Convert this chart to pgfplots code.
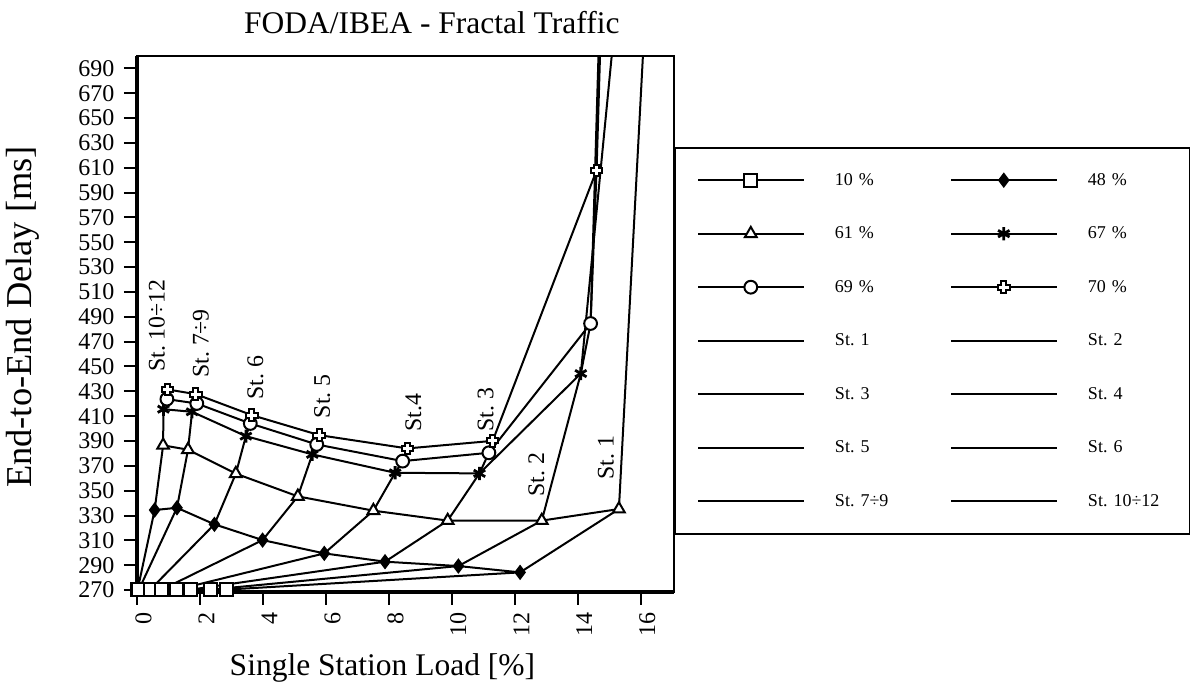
\documentclass[border=0pt]{standalone}
\usepackage{fontspec}
\setmainfont{Liberation Serif}
\usepackage{pgfplots}
\pgfplotsset{compat=1.18}

\pgfdeclareplotmark{fatplus}{%
  \pgfpathmoveto{\pgfqpoint{-0.42\pgfplotmarksize}{\pgfplotmarksize}}%
  \pgfpathlineto{\pgfqpoint{0.42\pgfplotmarksize}{\pgfplotmarksize}}%
  \pgfpathlineto{\pgfqpoint{0.42\pgfplotmarksize}{0.42\pgfplotmarksize}}%
  \pgfpathlineto{\pgfqpoint{\pgfplotmarksize}{0.42\pgfplotmarksize}}%
  \pgfpathlineto{\pgfqpoint{\pgfplotmarksize}{-0.42\pgfplotmarksize}}%
  \pgfpathlineto{\pgfqpoint{0.42\pgfplotmarksize}{-0.42\pgfplotmarksize}}%
  \pgfpathlineto{\pgfqpoint{0.42\pgfplotmarksize}{-\pgfplotmarksize}}%
  \pgfpathlineto{\pgfqpoint{-0.42\pgfplotmarksize}{-\pgfplotmarksize}}%
  \pgfpathlineto{\pgfqpoint{-0.42\pgfplotmarksize}{-0.42\pgfplotmarksize}}%
  \pgfpathlineto{\pgfqpoint{-\pgfplotmarksize}{-0.42\pgfplotmarksize}}%
  \pgfpathlineto{\pgfqpoint{-\pgfplotmarksize}{0.42\pgfplotmarksize}}%
  \pgfpathlineto{\pgfqpoint{-0.42\pgfplotmarksize}{0.42\pgfplotmarksize}}%
  \pgfpathclose
  \pgfusepathqfillstroke
}

\begin{document}
\frenchspacing
\begin{tikzpicture}
\useasboundingbox (-68.5pt,-49.5pt) rectangle (526.5pt,296pt);
\begin{axis}[
  at={(0pt,0pt)}, anchor=south west,
  scale only axis, width=268.5pt, height=268pt,
  xmin=0, xmax=17.06, ymin=268.4, ymax=700,
  xtick={0,2,...,16}, ytick={270,290,...,690},
  tick align=outside, xtick pos=left, ytick pos=left,
  major tick length=6.5pt,
  tick style={black, line width=1pt},
  axis line style={line width=1pt},
  /pgf/number format/assume math mode=true,
  tick label style={font=\fontsize{12}{14}\selectfont},
  xticklabel style={rotate=90, anchor=east, yshift=-3.3pt},
  yticklabel style={xshift=-1.3pt},
  title={FODA/IBEA - Fractal Traffic},
  title style={font=\fontsize{15.75}{18}\selectfont, at={(axis description cs:0.549,1.040)}, anchor=center},
  xlabel={Single Station Load [\%]},
  xlabel style={font=\fontsize{15.75}{18}\selectfont, at={(axis description cs:0.457,-0.142)}, anchor=center},
  ylabel={End-to-End Delay [ms]},
  ylabel style={font=\fontsize{18.2}{21}\selectfont, at={(axis description cs:-0.212,0.513)}, anchor=center},
  clip mode=individual,
  every axis plot/.append style={black, line width=1pt},
  legend columns=2,
  legend cell align=left,
  legend style={at={(1,0.831)}, anchor=north west, draw=black, line width=1pt, fill=white,
    inner xsep=11pt, inner ysep=12.3pt, row sep=18.75pt,
    font=\fontsize{9}{10}\selectfont,
    nodes={inner sep=0pt, text height=6.5pt, text depth=1.5pt},
    /tikz/every odd column/.append style={column sep=15.2pt},
    /tikz/every even column/.append style={column sep=17.5pt, text width=40pt}},
  legend image code/.code={%
    \draw[#1,mark=none] (0pt,0pt) -- (52.8pt,0pt);
    \draw[#1,mark indices={1}] plot coordinates {(26.4pt,0pt)};
  },
]
\draw[line width=2pt] (rel axis cs:0,1) -- (rel axis cs:0,0) -- (rel axis cs:1,0);

% station lines (10%, 48%, 61%, 67%, 69%, 70%)
\addplot[no marks, forget plot] coordinates {(2.83,270.3) (12.17,284.2) (15.31,335.2) (17.26,1268) (15.59,1500) (16.02,1800)};
\addplot[no marks, forget plot] coordinates {(2.33,270.3) (10.21,289.3) (12.86,325.9) (14.10,444.3) (14.41,484.6) (14.60,607.9)};
\addplot[no marks, forget plot] coordinates {(1.71,270.3) (7.88,292.8) (9.87,325.9) (10.88,363.9) (11.18,380.5) (11.30,390.1)};
\addplot[no marks, forget plot] coordinates {(1.27,270.3) (5.95,299.5) (7.51,333.9) (8.20,364.4) (8.44,373.8) (8.59,384.0)};
\addplot[no marks, forget plot] coordinates {(0.79,270.3) (3.99,310.2) (5.11,345.4) (5.57,379.2) (5.71,387.2) (5.79,394.7)};
\addplot[no marks, forget plot] coordinates {(0.42,270.3) (2.46,322.9) (3.14,363.7) (3.46,393.9) (3.60,404.1) (3.65,410.8)};
\addplot[no marks, forget plot] coordinates {(0.06,270.3) (1.27,336.2) (1.62,383.0) (1.75,413.5) (1.90,420.2) (1.87,427.7)};
\addplot[no marks, forget plot] coordinates {(0.02,270.3) (0.56,334.4) (0.83,386.5) (0.84,415.6) (0.95,423.7) (0.97,431.5)};

% traffic levels (St. 10-12 ... St. 1)
\addplot[mark=square*, mark size=3.25pt, mark options={fill=white, line width=1pt}] coordinates {
 (0.02,270.3) (0.06,270.3) (0.42,270.3) (0.79,270.3) (1.27,270.3) (1.71,270.3) (2.33,270.3) (2.83,270.3)};
\addlegendentry{10 \%}
\addplot[mark=diamond*, mark size=3.4pt, mark options={fill=black, line width=0.6pt}] coordinates {
 (0.56,334.4) (1.27,336.2) (2.46,322.9) (3.99,310.2) (5.95,299.5) (7.88,292.8) (10.21,289.3) (12.17,284.2)};
\addlegendentry{48 \%}
\addplot[mark=triangle*, mark size=3.4pt, mark options={fill=white, line width=1pt}] coordinates {
 (0.83,386.5) (1.62,383.0) (3.14,363.7) (5.11,345.4) (7.51,333.9) (9.87,325.9) (12.86,325.9) (15.31,335.2)};
\addlegendentry{61 \%}
\addplot[mark=asterisk, mark size=3.3pt, mark indices={1,2,3,4,5,6,7}, mark options={line width=1.4pt}] coordinates {
 (0.84,415.6) (1.75,413.5) (3.46,393.9) (5.57,379.2) (8.20,364.4) (10.88,363.9) (14.10,444.3) (17.26,1268)};
\addlegendentry{67 \%}
\addplot[mark=*, mark size=3.2pt, mark indices={1,2,3,4,5,6,7}, mark options={fill=white, line width=1pt}] coordinates {
 (0.95,423.7) (1.90,420.2) (3.60,404.1) (5.71,387.2) (8.44,373.8) (11.18,380.5) (14.41,484.6) (15.59,1500)};
\addlegendentry{69 \%}
\addplot[mark=fatplus, mark size=2.9pt, mark indices={1,2,3,4,5,6,7}, mark options={fill=white, line width=1pt}] coordinates {
 (0.97,431.5) (1.87,427.7) (3.65,410.8) (5.79,394.7) (8.59,384.0) (11.30,390.1) (14.60,607.9) (16.02,1800)};
\addlegendentry{70 \%}

\addlegendimage{no marks}\addlegendentry{St. 1}
\addlegendimage{no marks}\addlegendentry{St. 2}
\addlegendimage{no marks}\addlegendentry{St. 3}
\addlegendimage{no marks}\addlegendentry{St. 4}
\addlegendimage{no marks}\addlegendentry{St. 5}
\addlegendimage{no marks}\addlegendentry{St. 6}
\addlegendimage{no marks}\addlegendentry{St. 7÷9}
\addlegendimage{no marks}\addlegendentry{St. 10÷12}

\begin{scope}[every node/.style={rotate=90, anchor=west, inner sep=0pt, font=\fontsize{11.9}{13}\selectfont}]
\node at (axis cs:0.63,445.4) {St. 10÷12};
\node at (axis cs:2.03,440.6) {St. 7÷9};
\node at (axis cs:3.76,422.9) {St. 6};
\node at (axis cs:5.88,408.1) {St. 5};
\node at (axis cs:8.78,397.4) {St.4};
\node at (axis cs:11.08,397.4) {St. 3};
\node at (axis cs:12.69,345.1) {St. 2};
\node at (axis cs:14.90,358.5) {St. 1};
\end{scope}
\end{axis}
\end{tikzpicture}
\end{document}
